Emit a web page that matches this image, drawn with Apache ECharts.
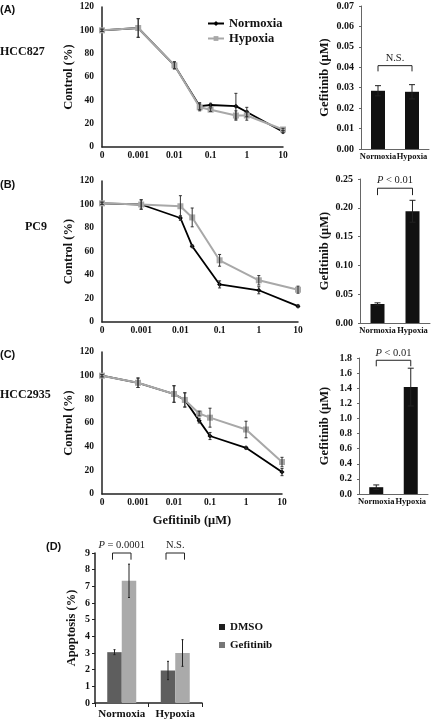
<!DOCTYPE html>
<html><head><meta charset="utf-8">
<script src="https://cdn.jsdelivr.net/npm/echarts@6/dist/echarts.min.js"></script>
<style>html,body{margin:0;padding:0;background:#fff}#c{width:431px;height:722px}</style>
</head><body><div id="c"></div>
<script>
// ---------- data ----------
const tickLabels = ['0', '0.001', '0.01', '0.1', '1', '10'];

const concA = [0, 0.001, 0.01, 0.05, 0.1, 0.5, 1, 10];
const normA = [100, 102, 70, 35, 36, 35, 30, 13];
const normAErr = [1, 8, 3, 3, 1.5, 11, 4, 1];
const hypA = [100, 102, 70, 34, 32, 27, 27, 15];
const hypAErr = [1, 8, 3, 3, 1.5, 4, 4, 1];

const concB = [0, 0.001, 0.01, 0.02, 0.1, 1, 10];
const normB = [101, 100, 88.5, 64.5, 32, 27, 13.5];
const normBErr = [1, 4, 2, 1, 3, 3, 1];
const hypB = [101, 100, 98.5, 89, 52.5, 35.5, 27.5];
const hypBErr = [1, 4, 9, 8, 5, 4, 3];

const concC = [0, 0.001, 0.01, 0.02, 0.05, 0.1, 1, 10];
const normC = [100, 94, 84.5, 79.5, 62, 49, 39, 18.5];
const normCErr = [1, 4, 7, 6, 2, 3, 1, 3];
const hypC = [100, 94, 84.5, 79.5, 68, 64.5, 54.5, 27];
const hypCErr = [1, 4, 7, 6, 2, 8, 7, 4];

const oxCats = ['Normoxia', 'Hypoxia'];
const ic50A = [0.0285, 0.028];
const ic50AErr = [0.0025, 0.0035];
const ic50B = [0.033, 0.194];
const ic50BErr = [0.002, 0.019];
const ic50C = [0.09, 1.415];
const ic50CErr = [0.03, 0.25];

const brackA = {top: 0.0408, bot: 0.038, text: 'N.S.'};
const brackB = {top: 0.234, bot: 0.222, text: '{i|P} < 0.01'};
const brackC = {top: 1.77, bot: 1.69, text: '{i|P} < 0.01'};

const apopCats = ['Normoxia', 'Hypoxia'];
const apopDMSO = [3.05, 1.95];
const apopDMSOErr = [0.15, 0.55];
const apopGef = [7.33, 3.0];
const apopGefErr = [1.0, 0.8];
const brackD = [
  {cat: 0, top: 9, bot: 8.6, text: '{i|P} = 0.0001'},
  {cat: 1, top: 9, bot: 8.6, text: 'N.S.'}
];

// ---------- helpers ----------
const SERIF = '"Liberation Serif","Times New Roman",serif';
const SANS = '"Liberation Sans",Arial,sans-serif';
const logPos = c => c === 0 ? -4 : Math.log10(c);

function errSeries(xi, xs, ys, es, color, cap, dx) {
  dx = dx || 0;
  return {
    type: 'custom', xAxisIndex: xi, yAxisIndex: xi, z: 6, silent: true,
    data: xs.map((x, i) => [x, ys[i] - es[i], ys[i] + es[i]]),
    renderItem: (params, api) => {
      const lo = api.coord([api.value(0), api.value(1)]);
      const hi = api.coord([api.value(0), api.value(2)]);
      const x = lo[0] + dx;
      const st = {stroke: color, lineWidth: 1};
      return {type: 'group', children: [
        {type: 'line', shape: {x1: x, y1: lo[1], x2: x, y2: hi[1]}, style: st},
        {type: 'line', shape: {x1: x - cap, y1: lo[1], x2: x + cap, y2: lo[1]}, style: st},
        {type: 'line', shape: {x1: x - cap, y1: hi[1], x2: x + cap, y2: hi[1]}, style: st}
      ]};
    }
  };
}

function bracketSeries(xi, x1, x2, dx1, dx2, b) {
  return {
    type: 'custom', xAxisIndex: xi, yAxisIndex: xi, z: 7, silent: true,
    data: [[x1, x2, b.top, b.bot]],
    renderItem: (params, api) => {
      const a = api.coord([api.value(0), api.value(2)]);
      const c = api.coord([api.value(1), api.value(2)]);
      const ab = api.coord([api.value(0), api.value(3)]);
      const xa = a[0] + dx1, xb = c[0] + dx2;
      return {type: 'group', children: [
        {type: 'polyline', shape: {points: [[xa, ab[1]], [xa, a[1]], [xb, a[1]], [xb, ab[1]]]},
          style: {stroke: '#222', fill: null, lineWidth: 1}},
        {type: 'text', x: (xa + xb) / 2, y: a[1] - 2,
          style: {text: b.text, fill: '#222', fontFamily: SERIF, fontSize: 10.5,
            align: 'center', verticalAlign: 'bottom',
            rich: {i: {fontStyle: 'italic', fontFamily: SERIF, fontSize: 10.5, fill: '#222'}}}}
      ]};
    }
  };
}

const tickFont = {fontFamily: SERIF, fontWeight: 'bold', fontSize: 9.5, color: '#111'};
const nameFont = {fontFamily: SERIF, fontWeight: 'bold', fontSize: 12.5, color: '#111'};

function logXAxis(gi, withName) {
  return {
    type: 'value', gridIndex: gi, min: -4, max: 1, interval: 1,
    axisLine: {show: true, onZero: false, lineStyle: {color: '#222', width: 1.5}},
    axisTick: {show: false}, splitLine: {show: false},
    axisLabel: Object.assign({formatter: v => tickLabels[Math.round(v) + 4], margin: 4}, tickFont),
    name: withName ? 'Gefitinib (μM)' : '', nameLocation: 'middle', nameGap: 20,
    nameTextStyle: nameFont
  };
}
function ctrlYAxis(gi) {
  return {
    type: 'value', gridIndex: gi, min: 0, max: 120, interval: 20,
    axisLine: {show: true, onZero: false, lineStyle: {color: '#222', width: 1.5}},
    axisTick: {show: false}, splitLine: {show: false},
    axisLabel: Object.assign({margin: 8}, tickFont),
    name: 'Control (%)', nameLocation: 'middle', nameGap: 27, nameTextStyle: nameFont
  };
}
function barXAxis(gi) {
  return {
    type: 'category', gridIndex: gi, data: oxCats,
    axisLine: {show: true, onZero: false, lineStyle: {color: '#666', width: 1}},
    axisTick: {show: false},
    axisLabel: Object.assign({margin: 3, interval: 0, hideOverlap: false}, tickFont, {fontSize: 8.5})
  };
}
function barYAxis(gi, max, interval, dec, gap) {
  return {
    type: 'value', gridIndex: gi, min: 0, max: max, interval: interval,
    axisLine: {show: true, onZero: false, lineStyle: {color: '#666', width: 1}},
    axisTick: {show: true, length: 2, lineStyle: {color: '#666'}}, splitLine: {show: false},
    axisLabel: Object.assign({margin: 7, formatter: v => v.toFixed(dec)}, tickFont, {fontSize: 10}),
    name: 'Gefitinib (μM)', nameLocation: 'middle', nameGap: gap, nameTextStyle: nameFont
  };
}

function lineSeries(name, gi, conc, vals, color, symbol, size, lw) {
  return {
    type: 'line', name: name, xAxisIndex: gi, yAxisIndex: gi,
    data: conc.map((c, i) => [logPos(c), vals[i]]),
    symbol: symbol, symbolSize: size, showSymbol: true,
    lineStyle: {color: color, width: lw}, itemStyle: {color: color},
    z: name === 'Hypoxia' ? 4 : 3
  };
}

const grids = [
  {left: 102, top: 7, width: 181, height: 140},
  {left: 102, top: 181, width: 196, height: 141},
  {left: 102, top: 352, width: 180, height: 142},
  {left: 361, top: 6, width: 68, height: 143},
  {left: 360, top: 179, width: 70, height: 144},
  {left: 359, top: 358, width: 69, height: 136},
  {left: 95, top: 553, width: 107, height: 150}
];

const lineSets = [
  [concA, normA, normAErr, hypA, hypAErr],
  [concB, normB, normBErr, hypB, hypBErr],
  [concC, normC, normCErr, hypC, hypCErr]
];
const series = [];
lineSets.forEach((s, gi) => {
  const xs = s[0].map(logPos);
  series.push(lineSeries('Normoxia', gi, s[0], s[1], '#000', 'diamond', 5, 1.8));
  series.push(lineSeries('Hypoxia', gi, s[0], s[3], '#a8a8a8', 'rect', 6, 2));
  series.push(errSeries(gi, xs, s[1], s[2], '#333', 1.5));
  series.push(errSeries(gi, xs, s[3], s[4], '#333', 1.5));
});

const barSets = [[ic50A, ic50AErr, brackA], [ic50B, ic50BErr, brackB], [ic50C, ic50CErr, brackC]];
barSets.forEach((s, k) => {
  const gi = 3 + k;
  series.push({type: 'bar', name: 'IC50 ' + k, xAxisIndex: gi, yAxisIndex: gi, data: s[0],
    barWidth: 14, itemStyle: {color: '#111'}});
  series.push(errSeries(gi, [0, 1], s[0], s[1], '#222', 3));
  series.push(bracketSeries(gi, 0, 1, 0, 0, s[2]));
});

const BW = 14.5;
series.push({type: 'bar', name: 'DMSO', xAxisIndex: 6, yAxisIndex: 6, data: apopDMSO,
  barWidth: BW, barGap: '0%', itemStyle: {color: '#5e5e5e'}});
series.push({type: 'bar', name: 'Gefitinib', xAxisIndex: 6, yAxisIndex: 6, data: apopGef,
  barWidth: BW, barGap: '0%', itemStyle: {color: '#aaaaaa'}});
series.push(errSeries(6, [0, 1], apopDMSO, apopDMSOErr, '#222', 1, -BW / 2));
series.push(errSeries(6, [0, 1], apopGef, apopGefErr, '#222', 1, BW / 2));
brackD.forEach(b => series.push(bracketSeries(6, b.cat, b.cat, -BW / 2 - 2, BW / 2 + 2, b)));

const xAxes = [
  logXAxis(0, false), logXAxis(1, false), logXAxis(2, true),
  barXAxis(3), barXAxis(4), barXAxis(5),
  {type: 'category', gridIndex: 6, data: apopCats,
    axisLine: {show: true, onZero: false, lineStyle: {color: '#222', width: 1.5}},
    axisTick: {show: true, length: 4, lineStyle: {color: '#222'}},
    axisLabel: Object.assign({margin: 6, interval: 0, hideOverlap: false}, tickFont, {fontSize: 11})}
];
const yAxes = [
  ctrlYAxis(0), ctrlYAxis(1), ctrlYAxis(2),
  barYAxis(3, 0.07, 0.01, 2, 30), barYAxis(4, 0.25, 0.05, 2, 29), barYAxis(5, 1.8, 0.2, 1, 28),
  {type: 'value', gridIndex: 6, min: 0, max: 9, interval: 1,
    axisLine: {show: true, onZero: false, lineStyle: {color: '#222', width: 1.5}},
    axisTick: {show: true, length: 3, lineStyle: {color: '#222'}}, splitLine: {show: false},
    axisLabel: Object.assign({margin: 5}, tickFont, {fontSize: 10}),
    name: 'Apoptosis (%)', nameLocation: 'middle', nameGap: 17, nameTextStyle: nameFont}
];

function txt(x, y, s, font, size) {
  return {type: 'text', x: x, y: y, silent: true,
    style: {text: s, fill: '#111', fontFamily: font, fontWeight: 'bold', fontSize: size,
      align: 'left', verticalAlign: 'middle'}};
}

const chart = echarts.init(document.getElementById('c'), null, {renderer: 'canvas'});
chart.setOption({
  backgroundColor: '#fff',
  animation: false,
  grid: grids,
  xAxis: xAxes,
  yAxis: yAxes,
  legend: [
    {data: ['Normoxia', 'Hypoxia'], orient: 'vertical', left: 202, top: 12,
      itemWidth: 16, itemHeight: 6, itemGap: 2,
      textStyle: {fontFamily: SERIF, fontWeight: 'bold', fontSize: 12.5, color: '#111', lineHeight: 13}},
    {data: [{name: 'DMSO', itemStyle: {color: '#1e1e1e'}}, {name: 'Gefitinib', itemStyle: {color: '#777'}}],
      orient: 'vertical', left: 214, top: 616, icon: 'rect',
      itemWidth: 6, itemHeight: 6, itemGap: 6,
      textStyle: {fontFamily: SERIF, fontWeight: 'bold', fontSize: 11, color: '#111', lineHeight: 12}}
  ],
  graphic: [
    txt(0, 10, '(A)', SANS, 11),
    txt(0, 52, 'HCC827', SERIF, 12),
    txt(0, 185, '(B)', SANS, 11),
    txt(25, 227, 'PC9', SERIF, 12),
    txt(0, 355, '(C)', SANS, 11),
    txt(0, 395, 'HCC2935', SERIF, 12),
    txt(46, 547, '(D)', SANS, 11)
  ],
  series: series
});
</script></body></html>
